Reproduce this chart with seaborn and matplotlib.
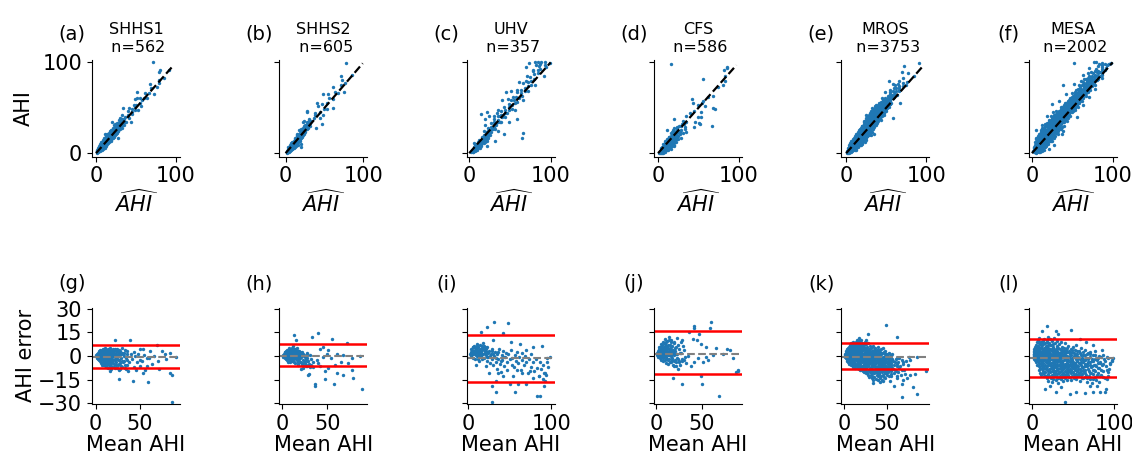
import matplotlib.pyplot as plt
import seaborn as sns
import pandas as pd

names = ['SHHS1', 'SHHS2', 'UHV', 'CFS', 'MROS', 'MESA']
n_subjects = [562, 605, 357, 586, 3753, 2002]
top_letters = ['(a)', '(b)', '(c)', '(d)', '(e)', '(f)']
bottom_letters = ['(g)', '(h)', '(i)', '(j)', '(k)', '(l)']

# Bland-Altman lines
bias = [-0.3, 0.2, -1.2, 1.4, -0.4, -1.2]
loa_upper = [7.2, 7.6, 13.6, 15.8, 8.2, 10.7]
loa_lower = [-7.3, -6.6, -16.6, -11.7, -8.0, -13.6]
diag_end = [97, 99, 100, 97, 97, 100]

top_xlim = [(-5, 105), (-8, 105), (-3, 105), (-5, 104), (-6, 104), (-4, 105)]
bottom_xlim = [(-4, 95.5), (-3, 94), (-2, 104), (-2, 94), (-3, 99), (-4, 103)]
bottom_xticks = [[0, 50], [0, 50], [0, 100], [0, 50], [0, 50], [0, 100]]

# points as (mean AHI, AHI error) where error = AHI_hat - AHI
shhs1_pts = [
    (1, 0.5), (1.5, -0.8), (2, 1.2), (2, -1), (2.5, 0.3), (3, 2), (3, -1.5), (3.5, 0.8), (4, -2.5), (4, 3),
    (4.5, -0.5), (5, 1.5), (5, -3), (5.5, 4), (6, 0), (6, -4.5), (6.5, 2.5), (7, -1.8), (7, 3.8), (7.5, -5.5),
    (8, 1), (8, -2.8), (8.5, 4.5), (9, -0.6), (9, -6), (9.5, 2.2), (10, -3.8), (10, 0.4), (10.5, 5), (11, -1.4),
    (11, 3), (11.5, -6.8), (12, -4.6), (12, 1.8), (12.5, -0.2), (13, 3.6), (13, -2.4), (13.5, -7.5), (14, 0.8),
    (14, -5), (14.5, 4.2), (15, -1.2), (15, 2.4), (15.5, -3.4), (16, -6.2), (16, 0), (16.5, 5.2), (17, -2),
    (17, 3.2), (17.5, -8), (18, 1.2), (18, -4.4), (18.5, -0.8), (19, 4), (19, -6.8), (19.5, 2), (20, -2.6),
    (20, 0.6), (21, -5), (21, 3.4), (22, -1.6), (22, -7.6), (23, 1.6), (23, -3.8), (24, 4.6), (24, -0.4),
    (25, -6), (25, 2.4), (26, -2.6), (27, 0.2), (27, -9), (28, 3), (28, -4.6), (29, -1.4), (30, -6.8), (31, 1),
    (32, -3.2), (33, 4), (34, -8.5),
    (2, 0), (3, 0.6), (4, 1.2), (5, -1.2), (6, 1.8), (7, 0.4), (8, -1), (9, 1.6), (10, 2.8), (11, 0.8),
    (12, -1.4), (13, 1), (14, -2.6), (15, 0.4), (16, 2.2), (17, -0.6), (18, 3), (19, -2.8), (20, 2.2),
    (21, -0.2), (22, 1.4), (23, -5.4),
    (1.5, 0.2), (2.5, -1.6), (3.5, -0.4), (4.5, 2), (5, 3.2), (5.5, -2), (6, -1.8), (6.5, -3.6), (7, 1.6),
    (7.5, 3), (8, 2.6), (8.5, -4.2), (9, 4), (9.5, -1.6), (10, -5.6), (10.5, 1.4), (11, -3), (11.5, 2.2),
    (12, 4), (12.5, -6), (13, -0.6), (13.5, 2.2), (14, 3), (14.5, -3.6), (15, -5.2), (15.5, 1.2), (16, -2),
    (16.5, 3.6), (17, -4), (17.5, 0.4), (18, -6.2), (18.5, 2.4), (19, 0.2), (19.5, -4.2), (20, 4.4),
    (20.5, -7), (21, 1.6), (21.5, -2.8), (22, 4.2), (22.5, -0.2), (23, 3.2), (24, -2.2), (24.5, -7.4),
    (25, 0.6), (26, 2.2), (26, -5), (27, -2.8), (28, 1), (29, -6.2), (30, 2), (31, -3.8), (32, 0),
    (33, -5.4), (35, 1.6), (36, -2.4),
    (22, 10.3), (39, 9.9), (50, 4.7), (54, 4.3), (69, 6.8), (75, 3.3), (84, 2), (91, -0.4), (58, -1.4),
    (50, -2.5), (45, 0), (40, 1.6), (27, -14.4), (42, -15.8), (59.5, -16.4), (86, -12), (86, -29), (46, -8.6),
    (54, -10.7), (37, -9.7), (16, -9.7), (50, -6.2), (58, -6.2), (35, -5.5), (30, -3), (32, 2), (34, -1),
    (36, 3), (38, -4), (41, -2), (43, -7), (44, 2.5), (47, -4), (48, 1), (52, -3), (55, 0.5), (56, -9),
    (60, -1), (62, 3), (64, -5), (66, 0), (70, -3), (72, -8), (78, 1), (80, -2), (30, 5), (28, -8),
    (33, -7.5), (26, 4), (29, 1), (84, -10.5),
]

shhs2_pts = [
    (1, 0.8), (1.5, -0.5), (2, 1.5), (2.5, 0.2), (3, 2.4), (3, -1), (3.5, 1), (4, 3.2), (4, -1.8), (4.5, 0.6),
    (5, 2), (5, -2.6), (5.5, 4), (6, 1), (6, -0.8), (6.5, 3), (7, -3.5), (7, 2.2), (7.5, 0), (8, 4.8),
    (8, 1.4), (8.5, -1.6), (9, 3.4), (9, -4), (9.5, 0.6), (10, 2.6), (10, -2.2), (10.5, 5.4), (11, 1),
    (11, -0.6), (11.5, 3.8), (12, -3), (12, 1.8), (12.5, 6.2), (13, -1.2), (13, 2.8), (13.5, 0.2), (14, 4.4),
    (14, -4.6), (15, 1.4), (15, -2), (15.5, 3.2), (16, -0.4), (16, 5), (17, -3.6), (17, 2), (18, 0.4),
    (18, -5.6), (19, 3), (19, -1.8), (20, -4), (20, 1.2), (21, -0.8), (22, -6), (22, 2.4), (23, -2.6),
    (24, 0.6), (25, -4.6), (26, -1.6), (27, 1.8), (28, -6.4), (29, -3),
    (2, 0.4), (4, 0.8), (5, -0.6), (6, 2.4), (7, 0.8), (8, -0.4), (9, 1.6), (10, 0.2), (11, 2.2), (12, -1),
    (13, 0.8), (14, 1.8), (15, -0.2), (16, 2.8), (17, 0.6), (18, 1.8), (19, -0.4), (20, 2.6),
    (2, -0.8), (3, 0.8), (3.5, 2.6), (4.5, -0.4), (5, 1.2), (5.5, -1.4), (6, 3.4), (6.5, 0.2), (7, 1.2),
    (7.5, 3.8), (8, -2.4), (8.5, 2.6), (9, -0.8), (9.5, 4.4), (10, 1.4), (10.5, -3.4), (11, 3.2), (11.5, 0.2),
    (12, 2.8), (12.5, -1.8), (13, 4.4), (13.5, -3.8), (14, 0.4), (14.5, 2.4), (15, -0.8), (15.5, 4.6),
    (16, 1.4), (16.5, -2.6), (17, 3.4), (17.5, -5), (18, -2), (18.5, 2.8), (19, 0.8), (19.5, -3.6),
    (20, -1.4), (21, 1.8), (21.5, -4.6), (22, 0), (23, -5.4), (23.5, 1.2), (24, -3.4), (25, -0.8),
    (26, -5.8), (27, -3.2), (28, 0.4), (30, -4.8), (31, -7.2), (32, -2),
    (13, 13.3), (15, 9.9), (33.5, 11.9), (39.7, 14.6), (55.5, 10.9), (71, 8.2), (45, 5.7), (41.5, 4.7),
    (50.7, 4.1), (60, 1.6), (67, 0.6), (76.5, -1.4), (85.7, 0), (65.4, -3.5), (72.8, -4.5), (58, -5.5),
    (50.7, -7.6), (47, -9.7), (60, -10.7), (67, -12.3), (76.5, -8.6), (78, -13.8), (57, -17.5), (47.8, -14.4),
    (36.8, -18.9), (36.8, -17.5), (29.8, -11.3), (28.7, -12.1), (23, -7.6), (21, -8.2), (26.8, -6.6),
    (32.4, -5.5), (34, -3.5), (38, -2.5), (39.7, -4.5), (41.5, -6.6), (34, -7), (45, -0.4), (49, 1),
    (54.4, -1.4), (27, -1.4), (30.5, 0.6), (88.6, -21),
]

uhv_pts = [
    (2, 1), (3, 2.5), (3.5, 0), (4, 4), (5, 1.5), (5, 5.5), (6, -1), (6, 3), (7, 6.5), (7.5, 1), (8, 3.8),
    (8, -2), (9, 5), (9.5, 2), (10, 0.2), (10, 7.5), (11, 3.5), (11.5, -1.8), (12, 5.8), (12.5, 1.6), (13, 4),
    (13, -3), (14, 2.4), (14.5, 6.8), (15, 0), (16, 3.6), (16.5, -2.2), (17, 5.2), (18, 1.2), (18, 8.2),
    (19, -1), (19.5, 3.2), (20, 5.8), (21, 0.4), (22, -3.4), (22, 2.8), (23, 6), (24, -0.8), (25, 3.4),
    (26, -4.6), (27, 1), (28, -2), (29, 4.6), (30, -6), (31, 0), (32, 2.6), (33, -3.8), (34, -8), (35, 1.4),
    (36, -1.6), (37, 4.2), (38, -5), (39, -10), (40, 0.6), (41, -2.6), (42, 3.4), (43, -6.6), (44, -0.4),
    (45, 2), (46, -4), (47, -8.6), (48, 1.2), (50, -2), (51, 3.8), (52, -5.4), (53, -1), (55, -7), (56, 0.8),
    (57, -3), (58, 2.6), (60, -4.4), (61, -0.6), (63, -9), (64, 1.8), (65, -2.4), (67, -6), (68, 0),
    (70, -3.6), (72, -11), (73, -1.8), (75, -6.8), (76, 1), (78, -4), (79, -9.6), (81, -2), (83, -7.4),
    (85, -13), (86, -3.6), (88, -8), (90, -5.6), (91, -11), (92, -16), (95, -4), (94, -12), (96.5, -7),
    (3, 4.4), (4, 1.6), (5, 3.2), (6, 6), (7, 2.6), (8, 5.6), (9, 0.8), (10, 3.6), (11, 6.6), (12, 2.8),
    (13, 0.8), (14, 4.6), (15, 2.6), (16, 6.4), (17, 1.4), (18, 4.2), (19, 6.6), (20, 2.2), (21, 4.6),
    (22, -0.6), (24, 2), (26, 0.2), (28, 3.4), (30, 1.6), (33, -1), (36, 2.6), (39, -3.4), (42, -0.8),
    (23, 18.5), (31.4, 21.6), (47.8, 20.7), (15, 15), (41.6, 14.4), (30, 10.5), (51.8, 9.2), (62, 7.8),
    (78, 5.7), (88.6, 6.2), (70, 3.7), (98.8, -0.4), (94.7, -1.4), (28.6, -18.9), (32.7, -15.8),
    (33.5, -23), (28.6, -29), (56, -22.6), (49.8, -17.9), (60, -17.9), (70, -17.9), (82.4, -25.7),
    (86.5, -25.7), (90.6, -18.9), (89.8, -14.8), (92.7, -10.7), (84.5, -12.7), (78.4, -13.8), (74.3, -9.7),
    (64, -10.7), (58, -8.6), (53.9, -12.7), (41.6, -12.7), (35.5, -10.7), (25.3, -10.7), (21.2, -6.6),
    (9, -5.5), (40.7, 47.8), (44.5, 44.3),
]

cfs_pts = [
    (1, 0.8), (1.5, 2), (2, 1.2), (2, 3.4), (2.5, -0.6), (3, 4.6), (3, 1.8), (3.5, 0.2), (4, 2.8), (4, 6),
    (4.5, -1.4), (5, 3.6), (5, 1), (5.5, 7.4), (6, 2.2), (6, -2.4), (6.5, 4.8), (7, 0.6), (7, 3), (7.5, 9),
    (8, 1.6), (8, -3.4), (8.5, 5.6), (9, 2.6), (9, -0.8), (9.5, 7.8), (10, 0.2), (10, 4), (10.5, 11), (11, 2),
    (11, -4.2), (11.5, 6.2), (12, -1.6), (12, 3.2), (12.5, 9.6), (13, 0.8), (13, 5), (13.5, -5), (14, 2.4),
    (14, 12.4), (14.5, -2.2), (15, 4.4), (15, 7), (16, 0), (16, -3.8), (16.5, 2.8), (17, 10.2), (17, 5.6),
    (18, -1.2), (18, 1.8), (19, 4), (19, -5.6), (20, 8.4), (20, 0.6), (21, -2.6), (21, 3), (22, 6), (22, -4),
    (23, 1.4), (23, 11.5), (24, -1.8), (25, 4.2), (26, -6), (27, 2), (28, -3), (30, 6.4), (32, -0.6),
    (3, 2.6), (4, 1.2), (5, 2.2), (6, 3.2), (7, 1.8), (8, 4), (9, 1.4), (10, 2.4), (11, 3.6), (12, 1.2),
    (13, 2.2), (14, 0.4), (15, 2), (16, 3.8), (18, 3.4), (20, 2.4),
    (2, 2.2), (3, 3.4), (3.5, 5.6), (4.5, 1.8), (5, 4.6), (5.5, -0.8), (6, 5.6), (6.5, 1.4), (7, 7.2),
    (7.5, -1.4), (8, 2.8), (8.5, 8.2), (9, 5), (9.5, -2.6), (10, 6), (10.5, 1), (11, 8.6), (11.5, -0.6),
    (12, 5.4), (12.5, 2.4), (13, -2.6), (13.5, 7), (14, 4.2), (14.5, 10), (15, 0.8), (15.5, -4), (16, 6.4),
    (16.5, 9), (17, 1.2), (17.5, -2.6), (18, 6.6), (19, 1.6), (19.5, 8.8), (20, -3.2), (21, 5.4), (22, 1.2),
    (23, -1), (24, 6.8), (25, -3.4), (26, 2.2), (27, 8.6), (29, -1.8), (31, 3.6), (33, -4.2),
    (42, 19), (42, 17.7), (60, 21.6), (59, 17.5), (36.5, 15), (46.7, 14), (40, 10.9), (29, 10.3),
    (44.5, 9.9), (49.3, 7.8), (54.7, 5.7), (65.7, 5.3), (77.7, 4.7), (81, 3.7), (84, -1.4), (73, 1.2),
    (62, 0.6), (56.6, -2.5), (51, -3.5), (54.7, -0.4), (45.6, -1.4), (42, -4.1), (34.7, 0), (31, -2.5),
    (25.5, -3.5), (21.9, -6.2), (18.2, -13.8), (29, -17.5), (49.3, -12.7), (50.4, -17.9), (68.6, -25.5),
    (86.9, -10.3), (89.4, -8.6), (38, -6.6), (23.7, -8.2), (20, -6.6), (90, -9.5), (57, -82), (48, 37),
]

# dense sets: (mean AHI, [errors at that mean])
mros_bins = [
    (1, [0.6, -0.4, 1.4]), (2, [-1.2, 2, 0.2, 3]), (3, [1, -2, 3.6, -0.6]), (4, [4.4, -1.6, 0.8, 2.4, -3.2]),
    (5, [1.8, -4, 5, 0, 3]), (6, [-2.4, 6, 1.2, -5, 3.8, -0.6]), (7, [2.6, -1.4, 7, -3.6, 4.6, 0.4]),
    (8, [-6, 5.6, 1.6, -2.8, 3.2, -0.2, 8]), (9, [2, -4.4, 6.4, 0.8, -1.8, 4]),
    (10, [-7, 3, -0.8, 7.4, 1.4, -3.2, 5]), (11, [0.2, -5.4, 4.4, -2, 8.6, 2.2]),
    (12, [-1, 6.2, -6.6, 2.8, -3.6, 0.6, 4.8]), (13, [3.4, -7.4, 1, -2.2, 7, -4.8, 5.6]),
    (14, [-0.4, 9.2, 2.4, -5.8, 4, -1.6]), (15, [6.6, -3, 0.8, -7.8, 3.2, -0.2, 10]),
    (16, [1.8, -4.2, 5.2, -1.2, 8, -6.4, 2.6]), (17, [-2.6, 4.4, -8.4, 0.4, 6.8, -4.6]),
    (18, [2.2, -0.8, 9.6, -6, 3.8, -2.8, 5.4]), (19, [-5.2, 1, -9, 4.6, -1.8, 7.6]),
    (20, [3, -3.4, 0, 6.2, -7, 10.4, -1]), (21, [-4, 2, -8.8, 5, -0.6, 8.2]),
    (22, [0.8, -6.2, 3.6, -2.4, 7, -9.6]), (23, [-1.4, 4.8, -4.8, 1.4, -10, 6]),
    (24, [2.8, -7.4, 0.2, -3.2, 9, -5.6]), (25, [-0.8, 5.4, -9.2, 3, -2, -11]),
    (26, [1.6, -5, 7.6, -2.8, -7.8, 4]), (27, [-3.8, 0.4, -10.6, 5.6, -1.2, 2.4]),
    (28, [3.4, -6.4, -0.4, 8.4, -12, -3]), (29, [-2.2, 1.2, -8.6, 4.6, -5, -13.2]),
    (30, [0.6, -4.6, 6.6, -10, -1.4, 2.8]), (31, [-6.8, 2, -2.6, -11.8, 4.8, -8]),
    (32, [-0.6, 5.8, -5.4, -14, 1.4, -9.6]), (33, [3, -3.4, -7.2, 0.2, -12.4, -1.8]),
    (34, [-4.4, 6.4, -9.2, 1.8, -15, -2.8]), (35, [0.4, -6, 3.6, -11, -1.6, -13.6]),
    (36, [-3.2, 2.4, -8, -0.4, 5.2, -5]), (37, [-10.4, 1, -4.2, -14.6, 3.2, -7]),
    (38, [-1.2, -6.8, 4, -12, -2.4, -9]), (39, [2, -4, -10.8, -0.8, -15.4]),
    (40, [-6.2, 1.4, -2.6, -8.8, 6, -13]), (41, [-4.8, 3.6, -11.6, -1, -7.4]),
    (42, [0.6, -9.6, -3.6, -14.2, 2.6]), (43, [-6, -1.8, -12.8, 4.4, -8.6]),
    (44, [-3, 1.8, -10, -5.4, -15]), (45, [5, -7.6, -0.6, -12.2, -3.8]), (46, [-2, -9.4, 2.6, -5.6, -13.4]),
    (47, [0, -6.6, -11, -3.2]), (48, [-8, 3.2, -4.4, -14]), (49, [-1.4, -10.6, -6.2, 1]),
    (50, [-3.6, -12, 0.4, -8.4]), (51, [-6.8, -1.8, -10]), (52, [-4, 2.2, -13]), (53, [-9, -0.6, -5.8]),
    (54, [-2.6, -11.4, -7]), (55, [-4.6, 0.8, -12.6]), (57, [-8.2, -3.4]), (58, [-6, -11]), (60, [-9.4, -2]),
    (62, [-5, -14.2]), (64, [-7.6, -1]), (66, [-11.8]), (68, [-4, -15]), (70, [-8.6]), (72, [-3]),
    (3.5, [0.4, -1]), (5.5, [-1.4, 2.2]), (7.5, [1, -0.6, -4.8]), (9.5, [-2.6, 3.6, 5.8]),
    (11.5, [-0.8, 1.8, 6.6, -3.8]), (13.5, [0.2, -5.6, 3.8, 8.4]), (15.5, [-2, 1.4, -5, 5.6]),
    (17.5, [2.4, -1, -6.8, 8.8]), (19.5, [-3.2, 0.6, 5.6]), (20.5, [4, -2, -6.4, 1]), (22.5, [-3, 6.2, -7.4]),
    (24.5, [0, -4.2, 7.8, -9]), (26.5, [-1, 3.2, -6.2]), (28.5, [1.8, -3.6, -9.4]), (30.5, [-2, 4.2, -7.6]),
    (32.5, [0.8, -4, -10.6]), (34.5, [-1.6, 2.8, -6.6]), (36.5, [-4.6, 0, -10.4]), (38.5, [1.2, -3.2, -7.8]),
    (40.5, [-0.2, -5.4, 3, -11]), (42.5, [-2.4, -7, 1]), (44.5, [-1, -4.6, -9]), (46.5, [2, -6.8, -3]),
    (48.5, [-2, -9.6, 0.4]), (50.5, [-5.2, 1.6, -7]), (52.5, [-1.2, -8.6, -3.4]), (54.5, [-6, 0, -9.8]),
    (56, [-2.2, -7.4, 1.2]), (59, [-4, -8.6]), (61, [-1.4, -6.6]), (63, [-10, -3.6]), (65, [-6.4]),
    (67, [-2.6, -9]), (69, [-5.2]), (71, [-11.4]), (74, [-6]), (77, [-2.4]),
]
mros_extra = [
    (48.4, 19.5), (28.3, 14), (61, 11.9), (17.7, 11.5), (25.6, 10.3), (74.8, -0.4), (84.6, -0.4),
    (95.3, -9.2), (82.7, -11.7), (76.8, -12.3), (72.8, -13.8), (67, -17.9), (57.9, -18.9), (67, -26),
    (84.6, -24), (41.3, -16.8), (33.5, -17.2), (45, -15.8), (53, -15.8), (61, -12.7), (80, -19.5),
]

mesa_bins = [
    (2, [1, -0.6, 2.4]), (3, [-1.6, 3, 0.4, 4.6]), (4, [2, -2.8, 5.8, 0.8]), (5, [-0.4, 7, -4, 3.6, 1.8]),
    (6, [4.8, -1.8, 8.6, 0.6, -5.6]), (7, [2.4, -3.4, 6.4, -0.8, 10]), (8, [-6.4, 1.2, 4, -2.2, 8, -9]),
    (9, [0, 5.4, -4.6, 2.8, -1, 11.4]), (10, [-7.6, 3.4, -2.8, 7.4, 0.8, -10.6]),
    (11, [1.6, -5.2, 5.8, -0.4, 9.2, -12]), (12, [-3, 2.6, -8.4, 6.8, 0.2, -1.4]),
    (13, [4, -6.2, -0.6, 9.8, 2, -11]), (14, [-2, 7.6, -9.6, 1, -4.6, 3.6]),
    (15, [5.4, -7.4, 0.4, -13, -2.6, 10.6]), (16, [-1.2, 3, -5.6, 8.4, -10.2, 1.8]),
    (17, [6, -3.6, -12.4, 0.8, -8, 4.2]), (18, [-0.6, 9.2, -6.6, 2.4, -14, -2.8]),
    (19, [3.6, -9.4, -1.8, 7, -4.4, 12]), (20, [-11.2, 1.2, 5, -6, -0.2, -15.6]),
    (21, [8.4, -3.2, -8.6, 2.6, -13, -1]), (22, [-5, 4.4, -0.6, -10.4, 10.8, 1.6]),
    (23, [-2.2, 6.8, -7.4, -13.8, 0.4, -4.2]), (24, [3.2, -11.8, -1.4, 9.4, -6.2, -16.4]),
    (25, [-3.6, 1.4, -9.2, 5.6, -0.2, -12.6]), (26, [7.6, -5.4, -1.8, -14.8, 2.8, -8]),
    (27, [-10.6, 0.6, 4.6, -3, -6.8, 11.6]), (28, [-0.8, -12.8, 2, -4.8, 8.2, -9.6]),
    (29, [4, -7.2, -2.4, -15.2, 0.8, -11]), (30, [-5.8, 6.4, -1.2, -9, 2.6, -13.4]),
    (31, [1.4, -3.8, 9.8, -11.6, -6.4, 3.4]), (32, [-8.4, -0.6, 5.2, -14, -3, -17]),
    (33, [2.2, -5.6, -10.2, 7.8, -1.8]), (34, [-12.4, -3.4, 0.6, 4.6, -7.8]),
    (35, [9, -1, -6.2, -14.6, 2.4, -9.8]), (36, [-4.2, 3.8, -11.4, -0.2, -7]),
    (37, [1.2, -13.2, 6, -3.6, -8.8]), (38, [-5.6, -0.8, -16, 3, -10.8]), (39, [4.8, -2.6, -7.6, -12.6, 0.4]),
    (40, [-9.4, 1.8, -4.8, 8, -14]), (41, [-1.6, -11.8, 3.6, -6.6]), (42, [0.2, -8.2, 5.4, -3.4, -13]),
    (43, [-5.2, 2.4, -10, -1, -15.2]), (44, [6.6, -7, -2.8, -12]), (45, [-0.4, -9.6, 3, -5.4]),
    (46, [-13.6, 1, -3.8, -8]), (47, [4.2, -6.4, -11, -1.6]), (48, [-3, -15, 0.6, -9]),
    (49, [2.8, -5, -12.4, -1.2]), (50, [-7.6, 5.6, -3.6, -10.4]), (51, [-0.6, -13.8, 1.8, -6.2]),
    (52, [-9, 3.8, -4.2]), (53, [-2, -11.6, 0, -7]), (54, [7, -5.4, -14.6]), (55, [-3.2, -9.8, 1.4]),
    (56, [-6.6, -0.4, -12.6]), (57, [3.4, -4.4, -10.8]), (58, [-8.2, -1.8, -15.8]), (59, [0.8, -6, -12]),
    (60, [-3.8, 5, -9.4]), (61, [-11.4, -1.2]), (62, [-6.8, 2.4, -14.2]), (63, [-2.6, -10]),
    (64, [-5, 0.6, -13.4]), (65, [-8.6, 3.8]), (66, [-1.4, -11.8]), (67, [-6.4, -16.4]), (68, [-3.6, 1.8]),
    (69, [-9.4, -12.8]), (70, [-0.8, -5.4]), (71, [-14.6, 2.6]), (72, [-7, -10.6]), (73, [-3, -17.2]),
    (74, [-11.6, 0.4]), (75, [-5.8, -8.6]), (76, [-2, -13.4]), (77, [-9.8, 3]), (78, [-6.6, -15]),
    (79, [-1.2]), (80, [-11, -4.4]), (81, [-16.8]), (82, [-7.8, 0]), (83, [-3.6]), (84, [-12.2]),
    (85, [-5.6]), (86, [-9.2]), (87, [-1.6]), (89, [-14]), (90, [-6.4]), (92, [-10]), (94, [-8]), (97, [-3.2]),
    (2.5, [0.2, 1.6]), (4.5, [-1, 3.2]), (6.5, [1.4, 6, -3.4]), (8.5, [2.2, -0.6, 9]), (10.5, [-4.4, 5, -1.4]),
    (12.5, [1, -6.6, 8.4]), (14.5, [-0.8, 4.6, -11]), (16.5, [2.2, -7.6, 6.4]), (18.5, [-3.2, 0.8, 10.4]),
    (20.5, [4, -8.4, -2]), (22.5, [-5.8, 1, 7]), (24.5, [-1.8, -9.6, 4.4]), (26.5, [0.2, -4, -11.4]),
    (28.5, [3, -6.6, -1]), (30.5, [-8, 0.8, 5.4]), (32.5, [-2.4, -10.6, 2]), (34.5, [-5, -0.6, -14]),
    (36.5, [1.6, -8.4, -3]), (38.5, [-6, 3.4, -11.6]), (40.5, [-2.2, -7, 0.8]), (42.5, [-10.8, -4.6, 2.6]),
    (44.5, [-0.8, -8.6, -13.6]), (46.5, [-5.6, 1.8, -10.2]), (48.5, [-2.4, -7.2, 4]),
    (50.5, [-11.4, -0.2, -5.2]), (52.5, [-7.8, 1.2, -13]), (54.5, [-3.4, -9.6, 3]), (56.5, [-1.2, -8, -12.2]),
    (58.5, [-4.6, 2, -10]), (60.5, [-7.2, -1.6, -13.8]), (62.5, [-4, 0.4, -9]), (64.5, [-11, -2.4, -6.6]),
    (66.5, [-4.8, 1, -14]), (68.5, [-8, -2.2]), (70.5, [-10.8, -4, 1.2]), (72.5, [-6.4, -1.6]),
    (74.5, [-9, -3.4, -14.8]), (76.5, [-5.4, 0.8]), (78.5, [-11.8, -2.8]), (80.5, [-7.6, -1]),
    (82.5, [-4.2, -12.6]), (84.5, [-8.8, -0.6]), (86.5, [-5, -13.6]), (88.5, [-3]), (91, [-8.6, -0.4]),
    (93, [-12.8]), (95, [-5]),
]
mesa_extra = [
    (18.3, 19.1), (12.6, 16), (28.9, 15.6), (31.7, 14), (48, 16.4), (17.5, -12.7), (15.4, -21), (21.5, -18.9),
    (29.7, -23), (35.8, -19.9), (39.8, -29.2), (46, -24), (54, -23), (64, -23.6), (74.4, -23), (82.5, -22.6),
    (88.6, -23), (78.5, -18.9), (70.3, -18.9), (90.7, -14.8), (94.7, -4.5), (96.7, -2.5), (92.7, -1.4),
    (86.6, 0.6), (84.6, 3.7), (74.4, 6.8), (66, 8.8), (58, 10.9), (76, -47), (56.7, -37), (89.5, -21),
    (98.5, -1),
]


def expand(bins):
    return [(m, d) for m, ds in bins for d in ds]


def to_frame(pairs):
    df = pd.DataFrame(pairs, columns=['mean', 'err'])
    df['AHI_hat'] = df['mean'] + df['err'] / 2
    df['AHI'] = df['mean'] - df['err'] / 2
    return df


datasets = [shhs1_pts, shhs2_pts, uhv_pts, cfs_pts,
            expand(mros_bins) + mros_extra, expand(mesa_bins) + mesa_extra]

plt.rcParams['xtick.labelsize'] = 15
plt.rcParams['ytick.labelsize'] = 15

fig, axes = plt.subplots(2, 6, figsize=(11.32, 4.55), dpi=100, sharey='row')
fig.subplots_adjust(left=0.0813, right=0.9865, bottom=0.112, top=0.868, wspace=1.128, hspace=1.565)

for i, pts in enumerate(datasets):
    df = to_frame(pts)

    # top row: AHI vs estimated AHI
    ax = axes[0, i]
    sns.scatterplot(data=df, x='AHI_hat', y='AHI', ax=ax, s=6, linewidth=0, color='#1f77b4')
    ax.plot([0, diag_end[i]], [0, diag_end[i]], 'k--', lw=1.6)
    ax.set_xlim(top_xlim[i])
    ax.set_ylim(-3.7, 102.6)
    ax.set_xticks([0, 100])
    ax.set_yticks([0, 100])
    ax.set_xlabel(r'$\widehat{AHI}$', fontsize=15, labelpad=2)
    ax.set_ylabel('AHI' if i == 0 else '', fontsize=15, labelpad=6)
    ax.set_title(f'{names[i]}\n n={n_subjects[i]}', fontsize=11.5)
    ax.text(-0.23, 1.27, top_letters[i], transform=ax.transAxes, fontsize=14, ha='center', va='center')

    # bottom row: Bland-Altman
    ax = axes[1, i]
    sns.scatterplot(data=df, x='mean', y='err', ax=ax, s=6, linewidth=0, color='#1f77b4')
    ax.axhline(bias[i], color='gray', ls='--', lw=1.5)
    ax.axhline(loa_upper[i], color='red', lw=1.8)
    ax.axhline(loa_lower[i], color='red', lw=1.8)
    ax.set_xlim(bottom_xlim[i])
    ax.set_ylim(-30.5, 30.8)
    ax.set_xticks(bottom_xticks[i])
    ax.set_yticks([-30, -15, 0, 15, 30])
    ax.set_xlabel('Mean AHI', fontsize=15, labelpad=1)
    ax.set_ylabel('AHI error' if i == 0 else '', fontsize=15, labelpad=2)
    ax.text(-0.23, 1.245, bottom_letters[i], transform=ax.transAxes, fontsize=14, ha='center', va='center')

sns.despine(fig=fig)
fig.savefig('out.png', dpi=100)
